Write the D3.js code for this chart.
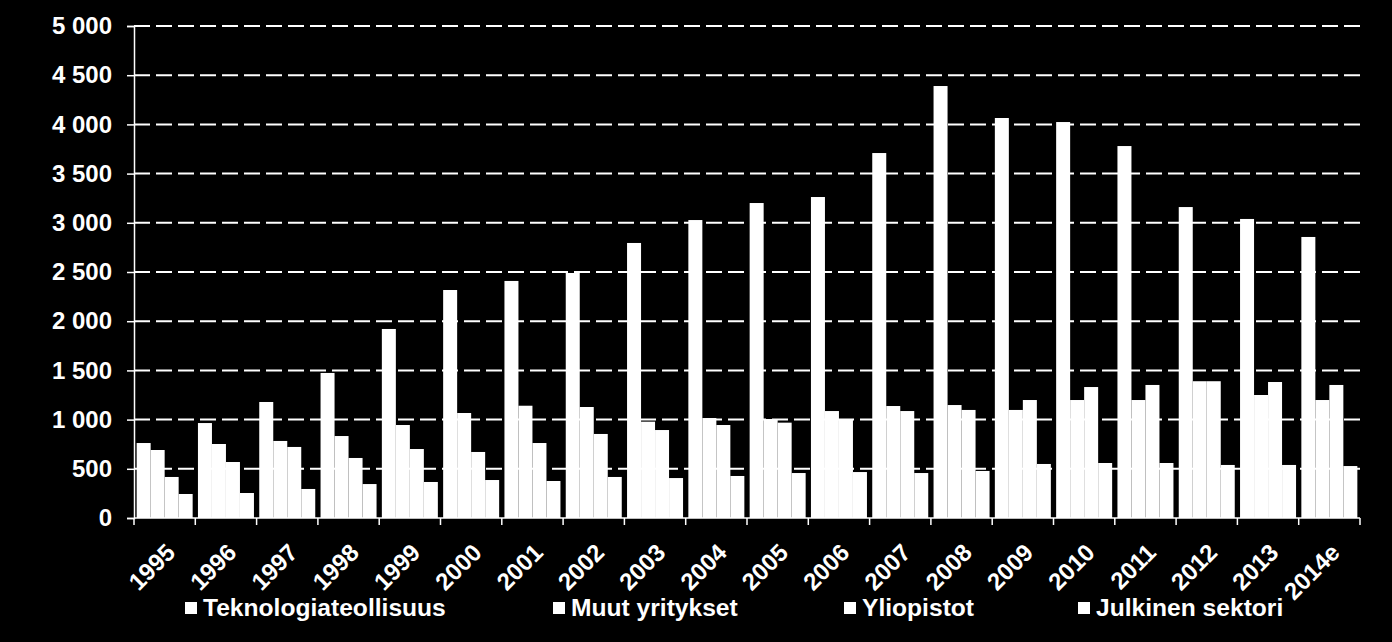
<!DOCTYPE html>
<html>
<head>
<meta charset="utf-8">
<script src="https://cdn.jsdelivr.net/npm/d3@7"></script>
<style>
  html, body { margin: 0; padding: 0; background: #000; }
  svg { display: block; }
  text { font-family: "Liberation Sans", Arial, sans-serif; font-weight: bold; fill: #fff; }
</style>
</head>
<body>
<svg id="chart" width="1392" height="642"></svg>
<script>
const years = ["1995","1996","1997","1998","1999","2000","2001","2002","2003","2004","2005","2006","2007","2008","2009","2010","2011","2012","2013","2014e"];
const seriesNames = ["Teknologiateollisuus","Muut yritykset","Yliopistot","Julkinen sektori"];
const teknologiateollisuus = [762,965,1179,1474,1921,2317,2409,2490,2795,3028,3201,3262,3709,4390,4065,4024,3780,3160,3039,2856];
const muutYritykset      = [691,752,783,833,945,1067,1141,1128,979,1016,1006,1087,1138,1148,1098,1199,1199,1390,1250,1199];
const yliopistot         = [417,569,722,610,701,671,762,854,894,945,969,1006,1087,1098,1199,1331,1352,1390,1382,1352];
const julkinenSektori    = [244,254,295,345,366,386,376,417,406,427,457,467,457,478,549,559,559,539,539,528];
const yTicks = [0,500,1000,1500,2000,2500,3000,3500,4000,4500,5000];

const seriesValues = [teknologiateollisuus, muutYritykset, yliopistot, julkinenSektori];
const rows = years.map((yr, i) => ({ year: yr, values: seriesNames.map((s, k) => ({ key: s, value: seriesValues[k][i] })) }));

const svg = d3.select("#chart");
const mLeft = 134, mRight = 1360, mTop = 26, mBottom = 518;

const x0 = d3.scaleBand().domain(years).range([mLeft, mRight]).paddingInner(0).paddingOuter(0);
const bw = x0.bandwidth();
const x1 = d3.scaleBand().domain(seriesNames).range([2.65, bw - 2.65]).padding(0);
const y = d3.scaleLinear().domain([0, 5000]).range([mBottom, mTop]);

// gridlines
svg.append("g").selectAll("line").data(yTicks.filter(d => d > 0)).join("line")
  .attr("x1", mLeft).attr("x2", mRight)
  .attr("y1", d => y(d)).attr("y2", d => y(d))
  .attr("stroke", "#fff").attr("stroke-width", 2).attr("stroke-dasharray", "16,6");

// bars
svg.append("g").selectAll("g").data(rows).join("g")
  .attr("transform", d => `translate(${x0(d.year)},0)`)
  .selectAll("rect").data(d => d.values).join("rect")
  .attr("x", d => x1(d.key)).attr("width", x1.bandwidth())
  .attr("y", d => y(d.value)).attr("height", d => y(0) - y(d.value))
  .attr("fill", "#fff");

// y axis
const yAxis = svg.append("g").attr("transform", `translate(${mLeft},0)`)
  .call(d3.axisLeft(y).tickValues(yTicks).tickSize(7).tickPadding(15)
    .tickFormat(d => d3.format(",")(d).replace(/,/g, " ")));
yAxis.select(".domain").attr("stroke", "#fff").attr("stroke-width", 1.5);
yAxis.selectAll(".tick line").attr("stroke", "#fff").attr("stroke-width", 1.5);
yAxis.selectAll(".tick text").attr("fill", "#fff").style("font-size", "24px")
  .style("font-family", "'Liberation Sans', Arial, sans-serif").style("font-weight", "bold");

// x axis line and boundary ticks
const xg = svg.append("g");
xg.append("line").attr("x1", mLeft).attr("x2", mRight).attr("y1", y(0)).attr("y2", y(0))
  .attr("stroke", "#fff").attr("stroke-width", 1.5);
const bounds = years.map(d => x0(d)).concat([x0.range()[1]]);
xg.selectAll("line.tk").data(bounds).join("line").attr("class", "tk")
  .attr("x1", d => d).attr("x2", d => d).attr("y1", y(0)).attr("y2", y(0) + 7)
  .attr("stroke", "#fff").attr("stroke-width", 1.5);
xg.selectAll("text").data(years).join("text")
  .attr("transform", d => `translate(${x0(d) + bw / 2 + 6},${y(0) + 30}) rotate(-45)`)
  .attr("text-anchor", "end").attr("dy", "0.35em")
  .style("font-size", "24px")
  .text(d => d);

// legend
const legendX = [185, 553, 844, 1078];
const lg = svg.append("g").selectAll("g").data(seriesNames).join("g")
  .attr("transform", (d, i) => `translate(${legendX[i]},602)`);
lg.append("rect").attr("width", 12).attr("height", 12).attr("fill", "#fff");
lg.append("text").attr("x", 18).attr("y", 14).style("font-size", "24.6px").text(d => d);
</script>
</body>
</html>
